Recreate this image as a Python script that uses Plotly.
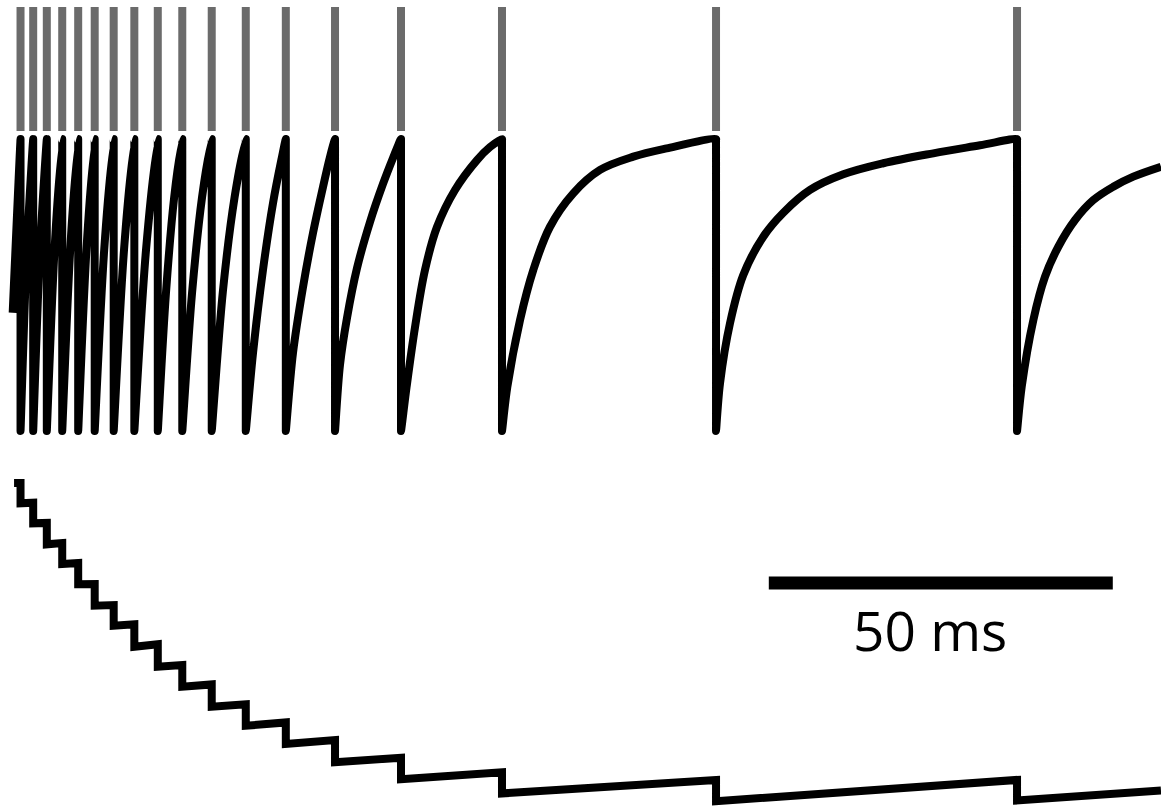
import plotly.graph_objects as go

# ---------------- data ----------------
# spike times (ms)
spike_times = [1.24, 3.08, 5.06, 7.30, 9.62, 12.02, 14.78, 17.78, 21.19, 24.75,
               29.03, 33.98, 39.80, 46.95, 56.54, 71.22, 102.33, 146.08]

# membrane potential (mV)
t_start = 0.1
t_end = 167.0
v_start = -61.9
v_threshold = -50.0
v_just_below = -50.07
v_reset = -70.0
v_just_above = -69.93

# interior samples of the recovery after each spike
recovery_t = [
    [2.16], [4.07], [6.18], [8.46], [10.82], [13.40], [16.28], [19.48],
    [22.37, 23.57], [26.16, 27.62], [30.66, 32.35],
    [35.03, 36.48, 37.94, 39.24],
    [40.84, 42.30, 43.75, 45.20, 46.22],
    [47.67, 48.69, 50.15, 52.03, 53.92, 55.38],
    [57.35, 58.58, 60.03, 61.77, 64.39, 67.59, 69.48],
    [72.00, 73.84, 75.77, 78.20, 81.58, 85.47, 90.31, 95.16],
    [102.91, 104.36, 106.29, 109.20, 112.11, 115.99, 120.83, 126.64, 133.91,
     140.70],
    [146.76, 148.45, 150.15, 152.08, 154.51, 157.17, 160.07, 162.98, 167.0],
]
recovery_v = [
    [-57.6], [-57.6], [-57.6], [-57.6], [-57.6], [-57.6], [-57.6], [-57.6],
    [-60.6, -54.0], [-60.6, -54.0], [-60.4, -54.0],
    [-64.66, -58.97, -54.38, -51.23],
    [-64.66, -60.14, -56.44, -53.29, -51.23],
    [-65.48, -62.26, -58.84, -55.69, -53.08, -51.30],
    [-66.99, -62.88, -58.97, -56.03, -53.49, -51.44, -50.55],
    [-66.97, -62.40, -58.97, -56.01, -53.72, -52.12, -51.21, -50.64],
    [-66.73, -62.62, -59.32, -56.69, -55.05, -53.49, -52.42, -51.66, -50.98,
     -50.43],
    [-66.97, -62.40, -59.43, -57.38, -55.55, -54.18, -53.27, -52.58, -51.90],
]

# adaptation variable (pA), value just before and just after each spike
w_t_start = 0.3
w_start = 0.0
w_before = [0.0, 9.4, 19.0, 28.6, 38.1, 48.1, 58.1, 67.3, 76.8, 86.7, 95.9,
            105.4, 114.0, 122.4, 130.8, 137.8, 141.4, 141.4]
w_after = [9.7, 19.2, 29.2, 38.6, 48.2, 58.4, 68.0, 78.0, 87.5, 97.0, 106.5,
           115.6, 124.3, 133.0, 141.1, 147.8, 151.5, 151.2]
w_end = 146.4

# scale bar
scale_t0 = 110.0
scale_len_ms = 50.0
scale_label = "50 ms"

# ---------------- build traces ----------------
vt, vv = [t_start], [v_start]
for i, s in enumerate(spike_times):
    vt += [s, s, s, s]
    vv += [v_threshold, v_just_below, v_just_above, v_reset]
    vt += recovery_t[i]
    vv += recovery_v[i]

wt, wv = [w_t_start], [w_start]
for s, b, a in zip(spike_times, w_before, w_after):
    wt += [s, s]
    wv += [b, a]
wt.append(t_end)
wv.append(w_end)

rx, ry = [], []
for s in spike_times:
    rx += [s, s, None]
    ry += [0, 1, None]

fig = go.Figure()
fig.add_trace(go.Scatter(x=rx, y=ry, mode="lines", yaxis="y3",
                         line=dict(color="#6b6b6b", width=8),
                         hoverinfo="skip"))
fig.add_trace(go.Scatter(x=vt, y=vv, mode="lines", yaxis="y",
                         line=dict(color="black", width=8, shape="spline",
                                   smoothing=1, simplify=False)))
fig.add_trace(go.Scatter(x=wt, y=wv, mode="lines", yaxis="y2",
                         line=dict(color="black", width=8, simplify=False)))

fig.add_shape(type="line", xref="x", yref="paper",
              x0=scale_t0, x1=scale_t0 + scale_len_ms,
              y0=1 - 583 / 808, y1=1 - 583 / 808,
              line=dict(color="black", width=13))
fig.add_annotation(x=133.4, xref="x",
                   y=1 - 629 / 808, yref="paper",
                   text=scale_label, showarrow=False,
                   xanchor="center", yanchor="middle",
                   font=dict(family="Open Sans", size=55, color="black"))

fig.update_layout(
    width=1161, height=808,
    margin=dict(l=0, r=0, t=0, b=0),
    paper_bgcolor="white", plot_bgcolor="white",
    showlegend=False,
    xaxis=dict(range=[-12 / 6.88, 1149 / 6.88], visible=False, domain=[0, 1]),
    yaxis=dict(range=[-50 - 669 / 14.6, -50 + 139 / 14.6], visible=False,
               domain=[0, 1]),
    yaxis2=dict(range=[325 / 2.1, -483 / 2.1], visible=False,
                overlaying="y"),
    yaxis3=dict(range=[0, 1], visible=False, anchor="x",
                domain=[1 - 131 / 808, 1 - 7 / 808]),
)

fig.write_html("out.html")
